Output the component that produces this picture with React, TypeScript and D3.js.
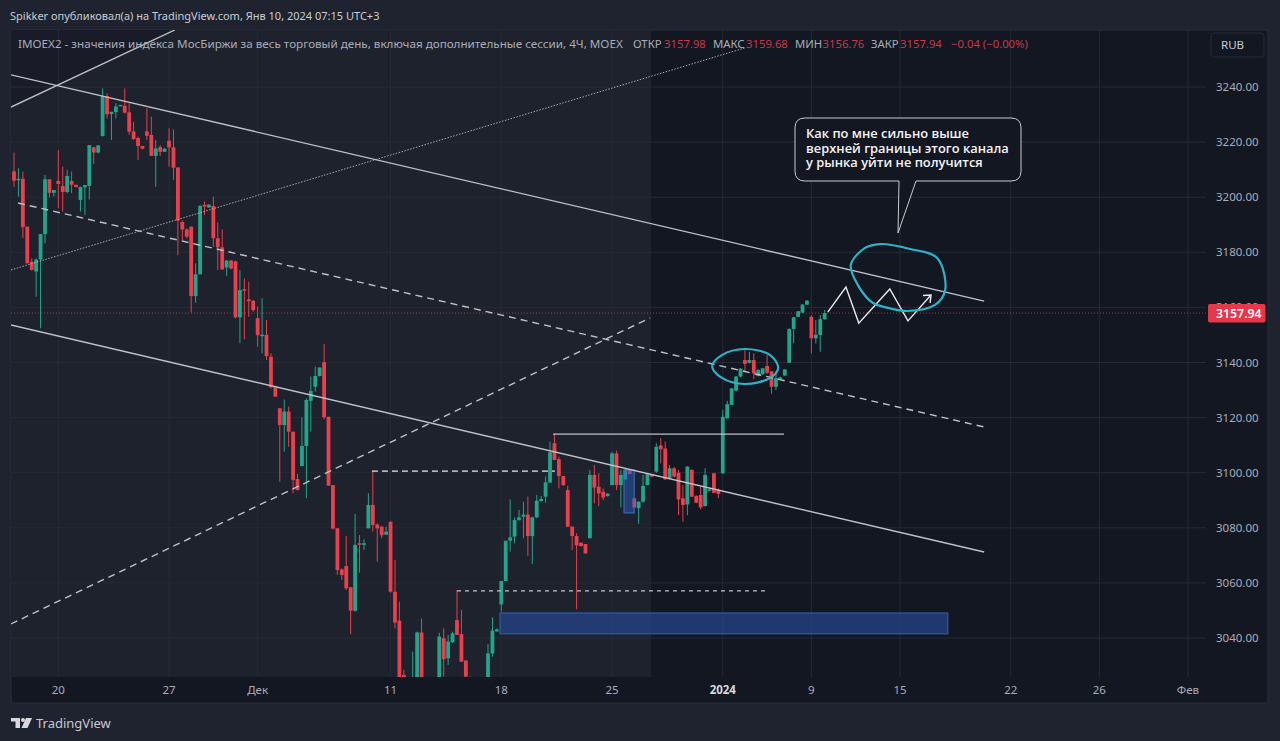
import React from "react";
import * as d3 from "d3";

type Bar = [number, number, number, number]; // open, high, low, close

const novemberBars: Bar[] = [
[3209.4,3216.2,3203.8,3206.0],[3206.5,3210.5,3200.2,3206.7],[3206.7,3209.3,3185.1,3189.1],[3189.3,3189.3,3176.0,3176.0],[3176.6,3177.8,3173.3,3173.6],
[3173.0,3177.8,3163.9,3177.4],[3177.4,3186.6,3152.4,3186.6],[3186.6,3208.1,3183.3,3206.5],[3206.5,3206.5,3199.9,3201.6],[3201.6,3202.6,3200.2,3202.6],
[3205.9,3217.1,3196.0,3204.8],[3204.1,3211.1,3194.8,3201.9],[3201.9,3209.9,3201.4,3207.7],[3205.9,3209.3,3201.4,3204.5],[3204.5,3204.5,3203.6,3203.7],
[3199.0,3203.8,3194.8,3203.7],[3203.6,3204.4,3193.5,3204.4],[3204.1,3218.9,3199.2,3218.9],[3218.1,3218.3,3212.0,3216.2],[3216.2,3218.9,3215.9,3218.8],
[3222.2,3239.5,3222.0,3236.7],[3236.7,3237.7,3228.6,3230.1],[3230.2,3231.0,3220.8,3231.0],[3230.9,3234.1,3228.6,3232.9],[3233.1,3233.5,3233.1,3233.5],
[3233.2,3239.5,3230.4,3230.7],[3230.8,3234.1,3222.6,3223.8],[3223.9,3227.4,3220.8,3221.1],[3221.5,3222.0,3213.5,3218.6],[3218.6,3218.6,3217.4,3217.6],
[3223.9,3232.3,3220.8,3222.3],[3222.6,3229.2,3215.0,3215.0],[3215.0,3220.8,3203.8,3217.7],[3218.2,3218.9,3215.0,3216.5],[3216.5,3217.9,3216.4,3217.6],
[3220.5,3225.0,3211.1,3218.1],[3218.1,3224.6,3206.3,3210.7],[3210.8,3210.8,3179.0,3191.5],[3191.0,3191.5,3184.5,3188.3],[3188.3,3188.6,3185.1,3185.7],
[3189.3,3189.3,3158.1,3164.1],[3164.1,3176.0,3161.7,3172.0],[3172.0,3197.2,3172.0,3196.8],[3197.2,3198.4,3193.5,3196.6],[3196.3,3197.4,3196.1,3197.3],
[3196.8,3200.2,3182.0,3185.1],[3185.1,3190.8,3173.6,3181.8],[3181.8,3188.3,3173.6,3173.8],[3174.5,3177.2,3171.4,3177.0],[3177.0,3177.2,3173.8,3174.1],
[3176.7,3177.0,3156.0,3156.4],[3156.4,3173.6,3147.0,3166.3],[3166.6,3170.5,3148.4,3166.1],[3162.9,3169.3,3156.6,3162.2],[3162.4,3162.7,3158.4,3159.0],
];

const decemberBars: Bar[] = [
[3156.1,3160.3,3145.8,3149.9],[3149.9,3163.3,3143.3,3150.1],[3150.0,3155.4,3140.9,3142.3],[3142.1,3143.3,3130.6,3131.0],[3131.0,3131.0,3127.6,3127.6],
[3123.4,3123.4,3096.7,3117.3],[3117.3,3126.6,3107.6,3122.2],[3122.2,3124.0,3109.4,3114.9],[3114.9,3114.9,3092.5,3097.4],[3097.7,3099.5,3093.5,3093.7],
[3102.4,3120.1,3102.4,3109.7],[3109.7,3127.0,3090.7,3126.4],[3126.1,3134.9,3114.9,3129.7],[3131.2,3138.5,3129.4,3135.1],[3135.1,3138.2,3134.9,3138.2],
[3140.1,3146.7,3119.4,3120.1],[3120.3,3120.3,3095.3,3095.3],[3095.5,3095.5,3079.4,3079.7],[3079.8,3079.8,3062.9,3064.7],[3064.9,3065.3,3061.0,3062.9],
[3066.1,3077.0,3057.4,3058.0],[3058.4,3058.6,3041.4,3049.9],[3049.9,3085.0,3049.6,3073.8],[3074.4,3077.4,3063.7,3073.9],[3073.8,3075.8,3071.9,3074.4],
[3079.8,3092.5,3079.8,3088.3],[3088.3,3100.4,3078.6,3081.0],[3081.2,3081.6,3067.7,3079.8],[3080.4,3080.7,3076.2,3077.3],[3077.5,3080.4,3077.4,3078.6],
[3082.2,3082.2,3056.5,3056.8],[3056.8,3068.3,3043.5,3045.6],[3046.3,3053.2,3018.0,3022.0],[3026.6,3028.4,3020.0,3024.0],[3022.0,3024.0,3015.0,3018.0],
[3019.0,3035.0,3017.0,3025.0],[3020.0,3042.3,3018.0,3042.0],[3042.0,3047.1,3018.0,3020.0],[3020.0,3024.0,3012.0,3015.0],[3015.0,3022.0,3012.0,3019.0],
[3019.0,3024.0,3017.0,3022.0],[3022.0,3041.9,3020.0,3040.5],[3039.9,3043.5,3026.0,3032.3],[3032.6,3041.1,3030.2,3038.7],[3038.5,3042.3,3038.1,3041.7],
[3046.5,3057.4,3041.1,3041.1],[3041.4,3050.2,3031.4,3031.4],[3031.8,3032.0,3024.7,3026.0],[3024.0,3026.0,3018.0,3020.0],[3020.0,3023.0,3015.0,3018.0],
[3018.0,3022.0,3016.0,3021.0],[3021.0,3025.0,3019.0,3023.0],[3024.0,3037.8,3022.0,3034.4],[3034.4,3047.5,3033.2,3042.7],[3042.4,3043.5,3042.3,3043.1],
[3052.2,3060.7,3049.6,3060.7],[3060.7,3075.3,3060.6,3075.3],[3075.3,3090.3,3071.3,3076.5],[3076.8,3083.8,3074.4,3082.8],[3082.8,3086.5,3082.6,3083.8],
[3084.0,3089.5,3076.2,3084.8],[3084.8,3091.3,3069.8,3077.0],[3077.0,3084.0,3066.9,3083.8],[3083.8,3091.9,3083.4,3089.8],[3089.7,3091.5,3089.5,3090.5],
[3091.3,3098.6,3089.1,3096.5],[3096.4,3111.3,3096.4,3107.4],[3110.7,3114.3,3104.6,3104.6],[3104.9,3105.8,3094.3,3098.8],[3098.8,3098.8,3095.2,3095.5],
[3093.7,3095.2,3080.4,3080.4],[3080.4,3080.6,3071.9,3077.0],[3077.0,3078.0,3050.4,3073.6],[3074.6,3074.6,3073.1,3073.4],[3074.1,3074.1,3070.7,3070.7],
[3076.2,3101.0,3076.2,3099.2],[3099.2,3102.8,3088.9,3094.6],[3094.9,3099.8,3087.9,3092.5],[3093.1,3094.3,3090.1,3091.0],[3091.5,3092.5,3091.3,3092.4],
[3095.5,3107.6,3095.5,3107.0],[3107.0,3108.0,3093.7,3095.5],[3095.5,3101.0,3087.4,3099.2],[3097.6,3101.6,3097.3,3101.0],[3101.0,3101.2,3099.5,3099.5],
[3090.7,3090.7,3087.4,3087.4],[3087.1,3089.5,3081.4,3089.5],[3089.5,3099.2,3089.1,3095.2],[3095.5,3099.8,3095.5,3099.5],[3099.4,3099.5,3098.3,3098.6],
[3100.4,3110.7,3100.0,3109.4],[3109.9,3112.5,3103.4,3108.5],[3108.8,3111.3,3097.3,3097.6],[3098.0,3102.8,3097.6,3101.6],[3101.6,3102.2,3098.3,3098.6],
[3100.0,3101.0,3084.6,3090.3],[3090.7,3095.5,3082.2,3088.3],[3088.5,3102.4,3084.6,3102.2],[3101.0,3101.2,3091.1,3091.3],[3091.5,3091.9,3088.9,3089.1],
[3091.9,3094.9,3086.7,3087.4],[3087.9,3101.6,3087.7,3099.2],[3093.6,3094.3,3093.5,3094.0],[3099.8,3099.8,3092.5,3092.7],[3093.7,3094.3,3090.7,3092.3],
];

const januaryBars: Bar[] = [
[3099.8,3122.8,3099.5,3120.3],[3119.7,3126.1,3119.7,3124.9],[3124.6,3130.6,3124.6,3130.6],[3129.8,3135.1,3129.5,3134.9],[3134.9,3137.9,3134.6,3137.8],
[3140.9,3144.5,3136.7,3139.5],[3139.9,3143.9,3139.7,3140.9],[3140.9,3143.3,3133.9,3136.1],[3135.1,3137.5,3134.9,3137.3],[3135.8,3137.9,3135.5,3137.9],
[3138.7,3142.7,3135.8,3136.3],[3136.8,3136.8,3128.6,3131.2],[3131.2,3136.7,3130.0,3134.3],[3134.4,3134.8,3134.2,3134.6],[3135.3,3137.5,3135.1,3137.5],
[3139.9,3152.4,3139.9,3152.2],[3152.2,3156.6,3147.0,3156.4],[3156.6,3158.7,3156.4,3158.6],[3158.1,3161.2,3157.9,3161.0],[3161.0,3162.7,3160.8,3162.4],
[3156.6,3157.2,3143.3,3148.8],[3148.8,3155.4,3146.9,3150.1],[3150.0,3157.2,3143.9,3155.7],[3155.7,3159.1,3155.5,3157.94],
];

const priceTicks = [3240, 3220, 3200, 3180, 3160, 3140, 3120, 3100, 3080, 3060, 3040];
const timeTicks: [number, string][] = [[10,"20"],[35,"27"],[55,"Дек"],[85,"11"],[110,"18"],[135,"25"],[160,"2024"],[180,"9"],[200,"15"],[225,"22"],[245,"26"],[265,"Фев"]];
const lastPrice = 3157.94;

type Pt = [number, number]; // bar index, price
const upperChannel: Pt[] = [[-0.68,3244.4],[219,3162.3]];
const midChannel: Pt[] = [[0.9,3197.9],[219,3116.6]];
const lowerChannel: Pt[] = [[-0.68,3153.6],[219,3071.2]];
const steepSolid: Pt[] = [[-0.68,3232.7],[36.3,3260.7]];
const risingDotted: Pt[] = [[-0.68,3173.6],[165,3254.2]];
const risingDashed: Pt[] = [[-0.68,3045.1],[143.6,3156.2]];
const highLevel: Pt[] = [[121.7,3114.0],[173.8,3114.0]];
const dashLevelA: Pt[] = [[80.8,3100.6],[122.1,3100.6]];
const dashLevelB: Pt[] = [[100,3057.1],[170,3057.1]];
const zigzag: Pt[] = [[183.7,3158.3],[187.8,3167.4],[190.7,3154.3],[197.7,3166.7],[201.8,3155.1],[207,3164.5]];
const arrowHead: Pt[] = [[205.2,3164.3],[207,3164.5],[206.8,3161.6]];
const bigLoop: Pt[] = [[188.9,3175.4],[192.1,3181.6],[195.5,3183],[202.3,3181.2],[208.4,3177.9],[210.2,3166.3],[207.9,3160.9],[201.6,3158.7],[196.6,3160.1],[193.9,3161.6],[190.5,3168.1]];
const smallLoop: Pt[] = [[157.6,3138.7],[159.8,3142.7],[165,3144.9],[170.7,3142.7],[172.5,3138],[170.7,3134.4],[165,3132.2],[159.8,3134.4]];
const zoneBox: Pt[] = [[109.7,3049.1],[210.8,3041.5]];
const orderBox: Pt[] = [[137.7,3101],[140,3085.4]];

const calloutLines = ["Как по мне сильно выше", "верхней границы этого канала", "у рынка уйти не получится"];
const headerText = "Spikker опубликовал(а) на TradingView.com, Янв 10, 2024 07:15 UTC+3";
const titleText = "IMOEX2 - значения индекса МосБиржи за весь торговый день, включая дополнительные сессии, 4Ч, MOEX";
const legendItems: [string, string, number, number][] = [["ОТКР","3157.98",633,664],["МАКС","3159.68",713,746],["МИН","3156.76",795,822.5],["ЗАКР","3157.94",871,900]];

const FONT = "'Noto Sans', 'Open Sans', sans-serif";
const UP = "#22a58c";
const DOWN = "#ea3f4c";
const LINE = "#bfc1c7";

const x = d3.scaleLinear().domain([0, 264]).range([14, 1183.5]);
const y = d3.scaleLinear().domain([3040, 3240]).range([638, 87]);
const toPath = d3.line<Pt>().x((d) => x(d[0])).y((d) => y(d[1]));
const smooth = d3.line<Pt>().x((d) => x(d[0])).y((d) => y(d[1])).curve(d3.curveCatmullRomClosed.alpha(0.5));

const PANE = { l: 11, r: 1206, t: 30, b: 677, split: 651 };

export default function App() {
  const bars = [...novemberBars, ...decemberBars, ...januaryBars];
  const box = (b: Pt[], key: string, fill: string, stroke: string, op: number) => (
    <rect key={key} x={x(b[0][0])} y={y(b[0][1])} width={x(b[1][0]) - x(b[0][0])} height={y(b[1][1]) - y(b[0][1])} fill={fill} fillOpacity={op} stroke={stroke} strokeWidth={1} />
  );
  return (
    <svg width={1280} height={741} style={{ position: "fixed", left: 0, top: 0, display: "block" }} fontFamily={FONT}>
      <defs>
        <clipPath id="pane"><rect x={PANE.l} y={PANE.t} width={PANE.r - PANE.l} height={PANE.b - PANE.t} /></clipPath>
      </defs>
      <rect width={1280} height={741} fill="#1f2330" />
      <rect x={PANE.l} y={PANE.t} width={1268 - PANE.l} height={703 - PANE.t} fill="#131722" stroke="#2a2e39" />
      <rect x={PANE.l} y={PANE.t} width={PANE.split - PANE.l} height={PANE.b - PANE.t} fill="#1e222d" />
      <path d="M11 30 H175 L11 107 Z" fill="#151925" fillOpacity={0.6} />
      <g stroke="#262a36" strokeWidth={1}>
        {priceTicks.map((p) => <line key={p} x1={PANE.l} x2={PANE.r} y1={y(p)} y2={y(p)} />)}
        {timeTicks.map(([t, s]) => <line key={s} x1={x(t)} x2={x(t)} y1={PANE.t} y2={PANE.b} />)}
      </g>
      <g clipPath="url(#pane)">
        {box(zoneBox, "zone", "#24448a", "#3560ad", 0.75)}
        {bars.map((b, i) => {
          const [o, h, l, c] = b;
          const col = c >= o ? UP : DOWN;
          const top = Math.min(y(o), y(c));
          const ht = Math.max(Math.abs(y(o) - y(c)), 1.5);
          return (
            <g key={i}>
              <line x1={x(i)} x2={x(i)} y1={y(h)} y2={y(l)} stroke={col} strokeWidth={1} />
              <rect x={x(i) - 1.9} y={top} width={3.8} height={ht} fill={col} />
            </g>
          );
        })}
        {box(orderBox, "order", "#2b62c4", "#3f72c8", 0.45)}
        <line x1={PANE.l} x2={PANE.r} y1={y(lastPrice)} y2={y(lastPrice)} stroke="#d8404f" strokeOpacity={0.75} strokeDasharray="1 2" />
        <g fill="none" stroke={LINE}>
          <path d={toPath(upperChannel)!} strokeWidth={1.4} />
          <path d={toPath(lowerChannel)!} strokeWidth={1.4} />
          <path d={toPath(steepSolid)!} strokeWidth={1.4} />
          <path d={toPath(midChannel)!} strokeWidth={1.4} strokeDasharray="7 5" />
          <path d={toPath(risingDashed)!} strokeWidth={1.4} strokeDasharray="7 5" />
          <path d={toPath(risingDotted)!} strokeWidth={1} strokeOpacity={0.85} strokeDasharray="1.5 1.5" />
          <path d={toPath(highLevel)!} strokeWidth={1.4} />
          <path d={toPath(dashLevelA)!} strokeWidth={1.2} stroke="#e6e7ea" strokeDasharray="6 4" />
          <path d={toPath(dashLevelB)!} strokeWidth={1.2} strokeDasharray="4 4" />
          <path d={toPath(zigzag)!} strokeWidth={1.4} stroke="#e8e9ec" />
          <path d={toPath(arrowHead)!} strokeWidth={1.4} stroke="#e8e9ec" />
          <path d={smooth(bigLoop)!} strokeWidth={2.2} stroke="#2cb4c6" />
          <path d={smooth(smallLoop)!} strokeWidth={2.2} stroke="#2cb4c6" />
        </g>
      </g>

      <path d="M805 118 H1011 Q1021 118 1021 128 V171 Q1021 181 1011 181 H916 L898 233 L899 181 H805 Q795 181 795 171 V128 Q795 118 805 118 Z" fill="#131722" stroke="#c9cbd0" strokeWidth={1} />
      {calloutLines.map((t, i) => (
        <text key={t} x={806} y={138 + i * 14.6} fill="#f4f4f6" fontSize={12.9} fontWeight={600} fontFamily="'Open Sans', sans-serif">{t}</text>
      ))}

      <text x={10} y={20} fill="#c9ccd3" fontSize={11}>{headerText}</text>
      <text x={18} y={48} fill="#a9adb8" fontSize={11.65}>{titleText}</text>
      {legendItems.map(([k, v, kx, vx]) => (
        <g key={k} fontSize={11.3}>
          <text x={kx} y={48} fill="#a9adb8">{k}</text>
          <text x={vx} y={48} fill="#c43a4a">{v}</text>
        </g>
      ))}
      <text x={951} y={48} fill="#c43a4a" fontSize={11.3}>−0.04 (−0.00%)</text>

      <rect x={1211} y={33} width={53} height={24} rx={3} fill="#131722" stroke="#262a36" />
      <text x={1221} y={49} fill="#c9ccd3" fontSize={11.5}>RUB</text>

      {priceTicks.map((p) => (
        <text key={p} x={1216} y={y(p) + 4} fill="#a9adb8" fontSize={11.5}>{p.toFixed(2)}</text>
      ))}
      <rect x={1208} y={304} width={57.5} height={18.5} rx={2} fill="#e53848" />
      <text x={1216} y={y(lastPrice) + 5} fill="#ffffff" fontSize={12.3} fontWeight={600}>{lastPrice.toFixed(2)}</text>

      {timeTicks.map(([t, s]) => (
        <text key={s} x={x(t)} y={694} textAnchor="middle" fill={s === "2024" ? "#d6d8de" : "#a9adb8"} fontSize={11.5} fontWeight={s === "2024" ? 700 : 400}>{s}</text>
      ))}

      <g fill="#d6d8de">
        <path d="M11 718 H20 V728 H15.5 V721.5 H11 Z" />
        <circle cx={23} cy={720} r={2} />
        <path d="M26 718 H32 L27.5 728 H21.5 Z" />
      </g>
      <text x={36} y={728} fill="#c6c9d1" fontSize={13}>TradingView</text>
    </svg>
  );
}
